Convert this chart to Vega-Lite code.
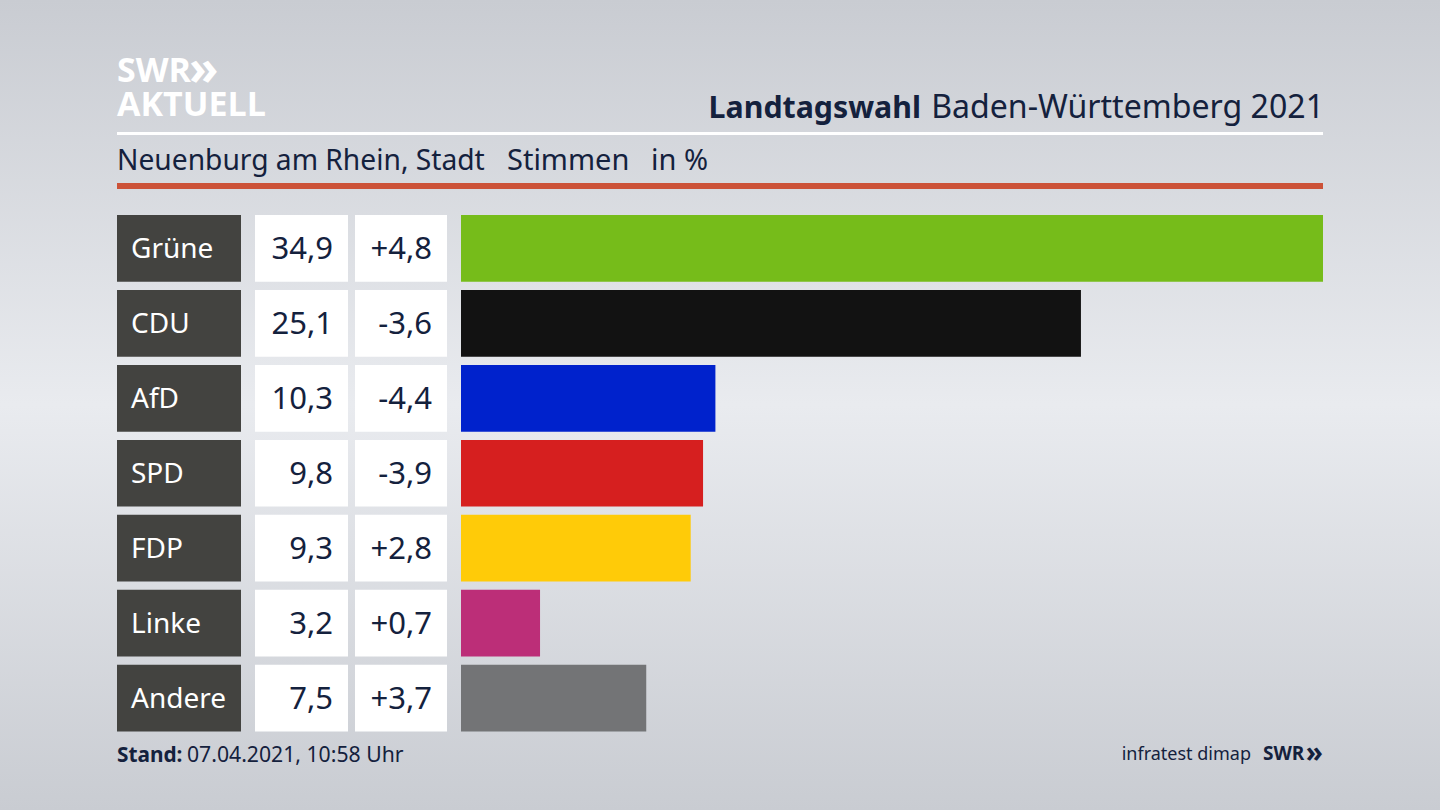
{
  "$schema": "https://vega.github.io/schema/vega-lite/v6.json",
  "description": "Landtagswahl Baden-Wuerttemberg 2021, Neuenburg am Rhein",
  "width": 1440,
  "height": 810,
  "padding": 0,
  "autosize": "none",
  "view": {
    "stroke": null,
    "fill": {
      "gradient": "linear",
      "x1": 0, "y1": 0, "x2": 0, "y2": 1,
      "stops": [
        {"offset": 0, "color": "#c9ccd2"},
        {"offset": 0.5, "color": "#e9ebef"},
        {"offset": 1, "color": "#c9ccd2"}
      ]
    }
  },
  "config": {"text": {"font": "Noto Sans"}},
  "datasets": {
    "results": [
      {"party": "Grüne", "share": 34.9, "shareText": "34,9", "changeText": "+4,8"},
      {"party": "CDU", "share": 25.1, "shareText": "25,1", "changeText": "-3,6"},
      {"party": "AfD", "share": 10.3, "shareText": "10,3", "changeText": "-4,4"},
      {"party": "SPD", "share": 9.8, "shareText": "9,8", "changeText": "-3,9"},
      {"party": "FDP", "share": 9.3, "shareText": "9,3", "changeText": "+2,8"},
      {"party": "Linke", "share": 3.2, "shareText": "3,2", "changeText": "+0,7"},
      {"party": "Andere", "share": 7.5, "shareText": "7,5", "changeText": "+3,7"}
    ]
  },
  "resolve": {"scale": {"x": "independent", "y": "independent", "color": "independent"}},
  "layer": [
    {
      "data": {"values": [{"rule": "head"}]},
      "mark": {"type": "rect", "color": "#ffffff"},
      "encoding": {
        "x": {"field": "rule", "type": "nominal", "axis": null, "scale": {"range": [117, 1323], "padding": 0}},
        "y": {"field": "rule", "type": "nominal", "axis": null, "scale": {"range": [132, 135], "padding": 0}}
      }
    },
    {
      "data": {"values": [{"rule": "accent"}]},
      "mark": {"type": "rect", "color": "#cc5238"},
      "encoding": {
        "x": {"field": "rule", "type": "nominal", "axis": null, "scale": {"range": [117, 1323], "padding": 0}},
        "y": {"field": "rule", "type": "nominal", "axis": null, "scale": {"range": [183, 189], "padding": 0}}
      }
    },
    {
      "data": {"name": "results"},
      "mark": {"type": "rect", "color": "#434340"},
      "encoding": {
        "x": {"datum": "Partei", "type": "nominal", "axis": null, "scale": {"range": [117, 241], "padding": 0}},
        "y": {"field": "party", "type": "nominal", "sort": null, "axis": null, "scale": {"type": "band", "range": [215, 731.5], "paddingInner": 0.11, "paddingOuter": 0}}
      }
    },
    {
      "data": {"name": "results"},
      "mark": {"type": "text", "align": "left", "dy": 2, "fontSize": 28, "fill": "#ffffff"},
      "encoding": {
        "x": {"datum": "Partei", "type": "nominal", "axis": null, "scale": {"type": "point", "range": [131, 131]}},
        "y": {"field": "party", "type": "nominal", "sort": null, "axis": null, "scale": {"type": "band", "range": [215, 731.5], "paddingInner": 0.11, "paddingOuter": 0}},
        "text": {"field": "party"}
      }
    },
    {
      "data": {"name": "results"},
      "mark": {"type": "rect", "color": "#ffffff"},
      "encoding": {
        "x": {"datum": "Stimmen", "type": "nominal", "axis": null, "scale": {"range": [255, 348], "padding": 0}},
        "y": {"field": "party", "type": "nominal", "sort": null, "axis": null, "scale": {"type": "band", "range": [215, 731.5], "paddingInner": 0.11, "paddingOuter": 0}}
      }
    },
    {
      "data": {"name": "results"},
      "mark": {"type": "text", "align": "right", "dy": 2, "fontSize": 31, "fill": "#14213d"},
      "encoding": {
        "x": {"datum": "Stimmen", "type": "nominal", "axis": null, "scale": {"type": "point", "range": [333, 333]}},
        "y": {"field": "party", "type": "nominal", "sort": null, "axis": null, "scale": {"type": "band", "range": [215, 731.5], "paddingInner": 0.11, "paddingOuter": 0}},
        "text": {"field": "shareText"}
      }
    },
    {
      "data": {"name": "results"},
      "mark": {"type": "rect", "color": "#ffffff"},
      "encoding": {
        "x": {"datum": "Differenz", "type": "nominal", "axis": null, "scale": {"range": [355, 447], "padding": 0}},
        "y": {"field": "party", "type": "nominal", "sort": null, "axis": null, "scale": {"type": "band", "range": [215, 731.5], "paddingInner": 0.11, "paddingOuter": 0}}
      }
    },
    {
      "data": {"name": "results"},
      "mark": {"type": "text", "align": "right", "dy": 2, "fontSize": 31, "fill": "#14213d"},
      "encoding": {
        "x": {"datum": "Differenz", "type": "nominal", "axis": null, "scale": {"type": "point", "range": [432, 432]}},
        "y": {"field": "party", "type": "nominal", "sort": null, "axis": null, "scale": {"type": "band", "range": [215, 731.5], "paddingInner": 0.11, "paddingOuter": 0}},
        "text": {"field": "changeText"}
      }
    },
    {
      "data": {"name": "results"},
      "mark": {"type": "bar"},
      "encoding": {
        "x": {"field": "share", "type": "quantitative", "axis": null, "scale": {"domain": [0, 34.9], "range": [461, 1323]}},
        "y": {"field": "party", "type": "nominal", "sort": null, "axis": null, "scale": {"type": "band", "range": [215, 731.5], "paddingInner": 0.11, "paddingOuter": 0}},
        "color": {
          "field": "party", "type": "nominal", "legend": null,
          "scale": {
            "domain": ["Grüne", "CDU", "AfD", "SPD", "FDP", "Linke", "Andere"],
            "range": ["#76bc1a", "#121212", "#0022cc", "#d61f1f", "#ffcb08", "#bc2e78", "#737476"]
          }
        }
      }
    },
    {
      "data": {"values": [{"label": "SWR"}]},
      "mark": {"type": "text", "align": "left", "baseline": "alphabetic", "fontSize": 34, "fontWeight": "bold", "font": "Open Sans", "fill": "#ffffff"},
      "encoding": {
        "x": {"field": "label", "type": "nominal", "axis": null, "scale": {"type": "point", "range": [117, 117]}},
        "y": {"field": "label", "type": "nominal", "axis": null, "scale": {"type": "point", "range": [82, 82]}},
        "text": {"field": "label"}
      }
    },
    {
      "data": {"values": [{"label": "»"}]},
      "mark": {"type": "text", "align": "left", "baseline": "alphabetic", "fontSize": 48, "fontWeight": "bold", "font": "Open Sans", "fill": "#ffffff"},
      "encoding": {
        "x": {"field": "label", "type": "nominal", "axis": null, "scale": {"type": "point", "range": [189, 189]}},
        "y": {"field": "label", "type": "nominal", "axis": null, "scale": {"type": "point", "range": [85, 85]}},
        "text": {"field": "label"}
      }
    },
    {
      "data": {"values": [{"label": "AKTUELL"}]},
      "mark": {"type": "text", "align": "left", "baseline": "alphabetic", "fontSize": 34, "fontWeight": "bold", "font": "Open Sans", "fill": "#ffffff"},
      "encoding": {
        "x": {"field": "label", "type": "nominal", "axis": null, "scale": {"type": "point", "range": [117, 117]}},
        "y": {"field": "label", "type": "nominal", "axis": null, "scale": {"type": "point", "range": [116, 116]}},
        "text": {"field": "label"}
      }
    },
    {
      "data": {"values": [{"label": "Landtagswahl"}]},
      "mark": {"type": "text", "align": "right", "baseline": "alphabetic", "fontSize": 30.3, "fontWeight": "bold", "fill": "#14213d"},
      "encoding": {
        "x": {"field": "label", "type": "nominal", "axis": null, "scale": {"type": "point", "range": [921, 921]}},
        "y": {"field": "label", "type": "nominal", "axis": null, "scale": {"type": "point", "range": [118, 118]}},
        "text": {"field": "label"}
      }
    },
    {
      "data": {"values": [{"label": "Baden-Württemberg 2021"}]},
      "mark": {"type": "text", "align": "right", "baseline": "alphabetic", "fontSize": 32.1, "fill": "#14213d"},
      "encoding": {
        "x": {"field": "label", "type": "nominal", "axis": null, "scale": {"type": "point", "range": [1324, 1324]}},
        "y": {"field": "label", "type": "nominal", "axis": null, "scale": {"type": "point", "range": [118, 118]}},
        "text": {"field": "label"}
      }
    },
    {
      "data": {"values": [{"label": "Neuenburg am Rhein, Stadt"}]},
      "mark": {"type": "text", "align": "left", "baseline": "alphabetic", "fontSize": 28.2, "fill": "#14213d"},
      "encoding": {
        "x": {"field": "label", "type": "nominal", "axis": null, "scale": {"type": "point", "range": [117, 117]}},
        "y": {"field": "label", "type": "nominal", "axis": null, "scale": {"type": "point", "range": [170, 170]}},
        "text": {"field": "label"}
      }
    },
    {
      "data": {"values": [{"label": "Stimmen"}]},
      "mark": {"type": "text", "align": "left", "baseline": "alphabetic", "fontSize": 29, "fill": "#14213d"},
      "encoding": {
        "x": {"field": "label", "type": "nominal", "axis": null, "scale": {"type": "point", "range": [507, 507]}},
        "y": {"field": "label", "type": "nominal", "axis": null, "scale": {"type": "point", "range": [170, 170]}},
        "text": {"field": "label"}
      }
    },
    {
      "data": {"values": [{"label": "in %"}]},
      "mark": {"type": "text", "align": "left", "baseline": "alphabetic", "fontSize": 29, "fill": "#14213d"},
      "encoding": {
        "x": {"field": "label", "type": "nominal", "axis": null, "scale": {"type": "point", "range": [651, 651]}},
        "y": {"field": "label", "type": "nominal", "axis": null, "scale": {"type": "point", "range": [170, 170]}},
        "text": {"field": "label"}
      }
    },
    {
      "data": {"values": [{"label": "Stand:"}]},
      "mark": {"type": "text", "align": "left", "baseline": "alphabetic", "fontSize": 20.8, "fontWeight": "bold", "fill": "#14213d"},
      "encoding": {
        "x": {"field": "label", "type": "nominal", "axis": null, "scale": {"type": "point", "range": [117, 117]}},
        "y": {"field": "label", "type": "nominal", "axis": null, "scale": {"type": "point", "range": [762, 762]}},
        "text": {"field": "label"}
      }
    },
    {
      "data": {"values": [{"label": "07.04.2021, 10:58 Uhr"}]},
      "mark": {"type": "text", "align": "left", "baseline": "alphabetic", "fontSize": 21.2, "fill": "#14213d"},
      "encoding": {
        "x": {"field": "label", "type": "nominal", "axis": null, "scale": {"type": "point", "range": [187, 187]}},
        "y": {"field": "label", "type": "nominal", "axis": null, "scale": {"type": "point", "range": [762, 762]}},
        "text": {"field": "label"}
      }
    },
    {
      "data": {"values": [{"label": "infratest dimap"}]},
      "mark": {"type": "text", "align": "right", "baseline": "alphabetic", "fontSize": 18, "fill": "#14213d"},
      "encoding": {
        "x": {"field": "label", "type": "nominal", "axis": null, "scale": {"type": "point", "range": [1251, 1251]}},
        "y": {"field": "label", "type": "nominal", "axis": null, "scale": {"type": "point", "range": [760, 760]}},
        "text": {"field": "label"}
      }
    },
    {
      "data": {"values": [{"label": "SWR"}]},
      "mark": {"type": "text", "align": "left", "baseline": "alphabetic", "fontSize": 19, "fontWeight": "bold", "font": "Open Sans", "fill": "#14213d"},
      "encoding": {
        "x": {"field": "label", "type": "nominal", "axis": null, "scale": {"type": "point", "range": [1263, 1263]}},
        "y": {"field": "label", "type": "nominal", "axis": null, "scale": {"type": "point", "range": [760, 760]}},
        "text": {"field": "label"}
      }
    },
    {
      "data": {"values": [{"label": "»"}]},
      "mark": {"type": "text", "align": "right", "baseline": "alphabetic", "fontSize": 28, "fontWeight": "bold", "font": "Open Sans", "fill": "#14213d"},
      "encoding": {
        "x": {"field": "label", "type": "nominal", "axis": null, "scale": {"type": "point", "range": [1323, 1323]}},
        "y": {"field": "label", "type": "nominal", "axis": null, "scale": {"type": "point", "range": [762, 762]}},
        "text": {"field": "label"}
      }
    }
  ]
}
